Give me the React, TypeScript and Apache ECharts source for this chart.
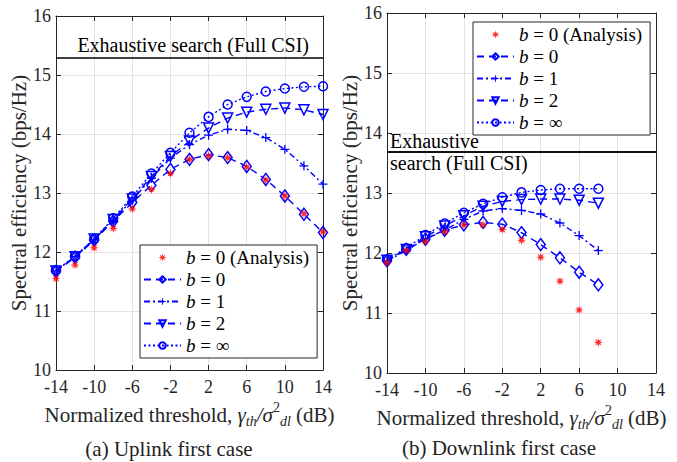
import React, { useEffect, useRef } from 'react';
import * as echarts from 'echarts';

// ---------- data ----------
const xUplink = [-14, -12, -10, -8, -6, -4, -2, 0, 2, 4, 6, 8, 10, 12, 14];
const upAnalysis = [11.55, 11.78, 12.07, 12.40, 12.73, 13.06, 13.33, 13.57, 13.63, 13.60, 13.44, 13.22, 12.95, 12.65, 12.34];
const upB0 = [11.67, 11.91, 12.20, 12.52, 12.84, 13.13, 13.40, 13.57, 13.65, 13.60, 13.45, 13.23, 12.95, 12.64, 12.33];
const upB1 = [11.68, 11.92, 12.21, 12.54, 12.88, 13.25, 13.59, 13.82, 13.98, 14.08, 14.06, 13.94, 13.74, 13.46, 13.15];
const upB2 = [11.68, 11.92, 12.22, 12.55, 12.90, 13.28, 13.62, 13.88, 14.10, 14.27, 14.37, 14.42, 14.44, 14.41, 14.33];
const upBinf = [11.69, 11.93, 12.22, 12.57, 12.94, 13.33, 13.68, 14.02, 14.29, 14.50, 14.63, 14.72, 14.77, 14.80, 14.81];
const upExhaustive = 15.29;

const xDownlink = [-14, -12, -10, -8, -6, -4, -2, 0, 2, 4, 6, 8];
const downAnalysis = [11.84, 12.04, 12.19, 12.35, 12.47, 12.47, 12.39, 12.21, 11.93, 11.53, 11.05, 10.51];
const downB0 = [11.87, 12.06, 12.23, 12.38, 12.47, 12.51, 12.48, 12.34, 12.14, 11.92, 11.68, 11.47];
const downB1 = [11.87, 12.04, 12.24, 12.38, 12.56, 12.70, 12.74, 12.71, 12.65, 12.50, 12.29, 12.04];
const downB2 = [11.88, 12.06, 12.27, 12.45, 12.62, 12.78, 12.86, 12.89, 12.90, 12.90, 12.88, 12.83];
const downBinf = [11.89, 12.08, 12.30, 12.49, 12.67, 12.82, 12.93, 13.01, 13.05, 13.07, 13.07, 13.07];
const downExhaustive = 13.69;

const seriesNames = ['b = 0 (Analysis)', 'b = 0', 'b = 1', 'b = 2', 'b = ∞'];
const xMin = -14, xMax = 14, xInterval = 4;
const yMin = 10, yMax = 16, yInterval = 1;
const xAxisTitle = '{n|Normalized threshold, }{i|γ}{s|th}{i|/σ}{p|2}{s|dl}{n| (dB)}';
const yAxisTitle = 'Spectral efficiency (bps/Hz)';
const exhaustiveText = 'Exhaustive search (Full CSI)';
const captions = ['(a) Uplink first case', '(b) Downlink first case'];

// ---------- styling ----------
const FONT = 'Liberation Serif';
const BLUE = '#0000ff';
const RED = '#ff0000';
const AXIS = '#262626';

function starPath(n: number, rOut: number, rIn: number) {
  const pts: string[] = [];
  for (let k = 0; k < 2 * n; k++) {
    const r = k % 2 === 0 ? rOut : rIn;
    const a = (Math.PI * k) / n - Math.PI / 2;
    pts.push(`${(5 + r * Math.cos(a)).toFixed(2)},${(5 + r * Math.sin(a)).toFixed(2)}`);
  }
  return 'path://M' + pts.join(' L') + ' Z';
}
const ASTERISK = starPath(8, 5, 2.2);
const PLUS = 'path://M4.3,0 L5.7,0 L5.7,4.3 L10,4.3 L10,5.7 L5.7,5.7 L5.7,10 L4.3,10 L4.3,5.7 L0,5.7 L0,4.3 L4.3,4.3 Z';

const pairs = (xs: number[], ys: number[]) => xs.map((x, i) => [x, ys[i]]);

function makeSeries(gi: number, xs: number[], a: number[], b0: number[], b1: number[], b2: number[], binf: number[], exVal: number) {
  const base = { xAxisIndex: gi * 2, yAxisIndex: gi * 2, silent: true };
  const lbl = { show: true, fontFamily: FONT, fontSize: 20, color: '#000' };
  const markLine =
    gi === 0
      ? {
          silent: true,
          symbol: ['none', 'none'],
          lineStyle: { color: '#000', type: 'solid', width: 1.5 },
          data: [
            { yAxis: exVal, label: { ...lbl, position: 'insideEndTop', distance: [14, 3], formatter: exhaustiveText } },
          ],
        }
      : {
          silent: true,
          symbol: ['none', 'none'],
          lineStyle: { color: '#000', type: 'solid', width: 1.5 },
          data: [
            { yAxis: exVal, label: { ...lbl, position: 'insideStartTop', distance: [3, 1], formatter: 'Exhaustive' } },
            { yAxis: exVal, label: { ...lbl, position: 'insideStartBottom', distance: [3, 1], formatter: 'search (Full CSI)' } },
          ],
        };
  const emptyStyle = { color: 'rgba(0,0,0,0)', borderColor: BLUE, borderWidth: 1.5 };
  return [
    {
      ...base,
      type: 'line',
      name: seriesNames[4],
      data: pairs(xs, binf),
      symbol: 'circle',
      symbolSize: 9,
      itemStyle: emptyStyle,
      lineStyle: { color: BLUE, width: 1.4, type: [2, 2.5] },
      markLine,
      z: 3,
    },
    {
      ...base,
      type: 'line',
      name: seriesNames[3],
      data: pairs(xs, b2),
      symbol: 'triangle',
      symbolRotate: 180,
      symbolSize: 10,
      itemStyle: emptyStyle,
      lineStyle: { color: BLUE, width: 1.4, type: [7, 5] },
      z: 3,
    },
    {
      ...base,
      type: 'line',
      name: seriesNames[2],
      data: pairs(xs, b1),
      symbol: PLUS,
      symbolSize: 9,
      itemStyle: { color: BLUE, borderWidth: 0 },
      lineStyle: { color: BLUE, width: 1.4, type: [6, 3, 2, 3] },
      z: 3,
    },
    {
      ...base,
      type: 'line',
      name: seriesNames[1],
      data: pairs(xs, b0),
      symbol: 'diamond',
      symbolSize: [9, 12],
      itemStyle: emptyStyle,
      lineStyle: { color: BLUE, width: 1.4, type: [7, 5] },
      z: 3,
    },
    {
      ...base,
      type: 'scatter',
      name: seriesNames[0],
      data: pairs(xs, a),
      symbol: ASTERISK,
      symbolSize: 9,
      itemStyle: { color: RED },
      z: 4,
    },
  ];
}

function makeAxesX(gi: number) {
  const common = {
    gridIndex: gi,
    type: 'value',
    min: xMin,
    max: xMax,
    interval: xInterval,
    axisLine: { show: true, onZero: false, lineStyle: { color: AXIS, width: 1 } },
    axisTick: { show: true, inside: true, length: 5, lineStyle: { color: AXIS } },
  };
  return [
    {
      ...common,
      position: 'bottom',
      axisLabel: { fontFamily: FONT, fontSize: 18, color: AXIS, margin: 8 },
      splitLine: { show: true, lineStyle: { color: '#e3e3e3', width: 1 } },
      name: xAxisTitle,
      nameLocation: 'middle',
      nameGap: 25,
      nameTextStyle: {
        rich: {
          n: { fontFamily: FONT, fontSize: 21, color: AXIS, lineHeight: 28, verticalAlign: 'middle' },
          i: { fontFamily: FONT, fontSize: 21, fontStyle: 'italic', color: AXIS, lineHeight: 28, verticalAlign: 'middle' },
          s: { fontFamily: FONT, fontSize: 14, fontStyle: 'italic', color: AXIS, lineHeight: 13, verticalAlign: 'bottom' },
          p: { fontFamily: FONT, fontSize: 14, color: AXIS, lineHeight: 13, verticalAlign: 'top' },
        },
      },
    },
    {
      ...common,
      position: 'top',
      axisLabel: { show: false },
      splitLine: { show: false },
    },
  ];
}

function makeAxesY(gi: number) {
  const common = {
    gridIndex: gi,
    type: 'value',
    min: yMin,
    max: yMax,
    interval: yInterval,
    axisLine: { show: true, onZero: false, lineStyle: { color: AXIS, width: 1 } },
    axisTick: { show: true, inside: true, length: 5, lineStyle: { color: AXIS } },
  };
  return [
    {
      ...common,
      position: 'left',
      axisLabel: { fontFamily: FONT, fontSize: 18, color: AXIS, margin: 5 },
      splitLine: { show: true, lineStyle: { color: '#e3e3e3', width: 1 } },
      name: yAxisTitle,
      nameLocation: 'middle',
      nameGap: 24,
      nameTextStyle: { fontFamily: FONT, fontSize: 21, color: AXIS },
    },
    {
      ...common,
      position: 'right',
      axisLabel: { show: false },
      splitLine: { show: false },
    },
  ];
}

function makeLegend(left: number, top: number) {
  return {
    orient: 'vertical',
    left,
    top,
    data: seriesNames,
    backgroundColor: '#fff',
    borderColor: AXIS,
    borderWidth: 1,
    borderRadius: 0,
    padding: [3, 8, 3, 3],
    itemGap: 3,
    itemWidth: 37,
    itemHeight: 8,
    selectedMode: false,
    formatter: (name: string) => `{i|b}{n|${name.slice(1)}}`,
    textStyle: {
      color: '#000',
      fontFamily: FONT,
      rich: {
        i: { fontFamily: FONT, fontSize: 19, fontStyle: 'italic', color: '#000', lineHeight: 19 },
        n: { fontFamily: FONT, fontSize: 19, color: '#000', lineHeight: 19 },
      },
    },
  };
}

export default function App() {
  const ref = useRef<HTMLDivElement>(null);
  useEffect(() => {
    if (!ref.current) return;
    const chart = echarts.init(ref.current, null, { renderer: 'svg' });
    const option: any = {
      animation: false,
      backgroundColor: '#fff',
      textStyle: { fontFamily: FONT },
      grid: [
        { left: 56, top: 16, width: 267, height: 354 },
        { left: 387, top: 13, width: 269, height: 360 },
      ],
      xAxis: [...makeAxesX(0), ...makeAxesX(1)],
      yAxis: [...makeAxesY(0), ...makeAxesY(1)],
      legend: [makeLegend(140, 245), makeLegend(473, 22)],
      series: [
        ...makeSeries(0, xUplink, upAnalysis, upB0, upB1, upB2, upBinf, upExhaustive),
        ...makeSeries(1, xDownlink, downAnalysis, downB0, downB1, downB2, downBinf, downExhaustive),
      ],
      graphic: [
        {
          type: 'text',
          x: 169,
          y: 449,
          style: { text: captions[0], fontFamily: FONT, fontSize: 21, fill: '#222', align: 'center', verticalAlign: 'middle' },
        },
        {
          type: 'text',
          x: 499,
          y: 448,
          style: { text: captions[1], fontFamily: FONT, fontSize: 21, fill: '#222', align: 'center', verticalAlign: 'middle' },
        },
      ],
    };
    chart.setOption(option);
    return () => chart.dispose();
  }, []);
  return (
    <div
      ref={ref}
      style={{ position: 'fixed', left: 0, top: 0, width: 677, height: 462, background: '#fff' }}
    />
  );
}
